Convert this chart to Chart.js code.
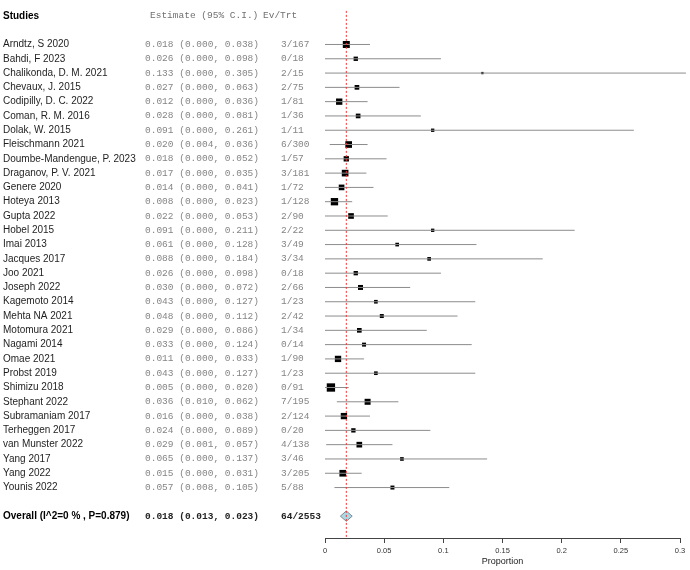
<!DOCTYPE html>
<html>
<head>
<meta charset="utf-8">
<script src="https://cdn.jsdelivr.net/npm/chart.js@4/dist/chart.umd.min.js"></script>
<style>
  html, body { margin: 0; padding: 0; background: #fff; }
  #wrap { width: 690px; height: 570px; }
</style>
</head>
<body>
<div id="wrap"><canvas id="forest" width="690" height="570"></canvas></div>
<script>
// forest plot of proportions, one row per study

const studies = ['Arndtz, S 2020', 'Bahdi, F 2023', 'Chalikonda, D. M. 2021', 'Chevaux, J. 2015', 'Codipilly, D. C. 2022',
  'Coman, R. M. 2016', 'Dolak, W. 2015', 'Fleischmann 2021', 'Doumbe-Mandengue, P. 2023', 'Draganov, P. V. 2021',
  'Genere 2020', 'Hoteya 2013', 'Gupta 2022', 'Hobel 2015', 'Imai 2013', 'Jacques 2017', 'Joo 2021', 'Joseph 2022',
  'Kagemoto 2014', 'Mehta NA 2021', 'Motomura 2021', 'Nagami 2014', 'Omae 2021', 'Probst 2019', 'Shimizu 2018',
  'Stephant 2022', 'Subramaniam 2017', 'Terheggen 2017', 'van Munster 2022', 'Yang 2017', 'Yang 2022', 'Younis 2022'];
const estimate = [0.018, 0.026, 0.133, 0.027, 0.012, 0.028, 0.091, 0.020, 0.018, 0.017, 0.014, 0.008, 0.022, 0.091, 0.061, 0.088,
  0.026, 0.030, 0.043, 0.048, 0.029, 0.033, 0.011, 0.043, 0.005, 0.036, 0.016, 0.024, 0.029, 0.065, 0.015, 0.057];
const lower = [0.000, 0.000, 0.000, 0.000, 0.000, 0.000, 0.000, 0.004, 0.000, 0.000, 0.000, 0.000, 0.000, 0.000, 0.000, 0.000,
  0.000, 0.000, 0.000, 0.000, 0.000, 0.000, 0.000, 0.000, 0.000, 0.010, 0.000, 0.000, 0.001, 0.000, 0.000, 0.008];
const upper = [0.038, 0.098, 0.305, 0.063, 0.036, 0.081, 0.261, 0.036, 0.052, 0.035, 0.041, 0.023, 0.053, 0.211, 0.128, 0.184,
  0.098, 0.072, 0.127, 0.112, 0.086, 0.124, 0.033, 0.127, 0.020, 0.062, 0.038, 0.089, 0.057, 0.137, 0.031, 0.105];
const evTrt = ['3/167', '0/18', '2/15', '2/75', '1/81', '1/36', '1/11', '6/300', '1/57', '3/181', '1/72', '1/128', '2/90', '2/22',
  '3/49', '3/34', '0/18', '2/66', '1/23', '2/42', '1/34', '0/14', '1/90', '1/23', '0/91', '7/195', '2/124', '0/20', '4/138',
  '3/46', '3/205', '5/88'];
// relative study weights (%)
const weight = [4.2, 2.6, 1.4, 2.8, 3.8, 2.8, 2.0, 4.0, 3.2, 4.0, 3.4, 4.4, 3.4, 2.0, 2.2, 2.2, 2.6, 3.0, 2.2, 2.4, 2.8, 2.4,
  3.8, 2.2, 5.0, 3.6, 3.8, 2.6, 3.4, 2.2, 4.0, 2.4];

const overallLabel = 'Overall (I^2=0 % , P=0.879)';
const overallEst = 0.018, overallLo = 0.013, overallHi = 0.023;
const overallEv = '64/2553';
const xTicks = [0, 0.05, 0.1, 0.15, 0.2, 0.25, 0.3];

// row layout: 0 header, 1 blank, studies from 2, blank, overall
const firstRow = 2;
const overallRow = firstRow + studies.length + 1;

const fmt = v => v.toFixed(3);

const whiskers = studies.map((s, i) => ({
    type: 'scatter',
    showLine: true,
    data: [{ x: lower[i], y: firstRow + i }, { x: upper[i], y: firstRow + i }],
    borderColor: '#8c8c8c',
    borderWidth: 1,
    pointRadius: 0,
    clip: false
}));

const boxes = {
    type: 'scatter',
    data: estimate.map((e, i) => ({ x: e, y: firstRow + i })),
    pointStyle: 'rect',
    pointRadius: weight.map(w => (w / 0.6) / Math.SQRT2),
    backgroundColor: '#000',
    borderWidth: 0,
    clip: false
};

const refLine = {
    type: 'scatter',
    showLine: true,
    data: [{ x: overallEst, y: -0.35 }, { x: overallEst, y: 36.53 }],
    borderColor: '#f03030',
    borderWidth: 1,
    borderDash: [2, 2],
    pointRadius: 0,
    clip: false
};

const diamond = {
    type: 'scatter',
    showLine: true,
    data: [
        { x: overallLo, y: overallRow }, { x: overallEst, y: overallRow - 0.36 },
        { x: overallHi, y: overallRow }, { x: overallEst, y: overallRow + 0.36 },
        { x: overallLo, y: overallRow }
    ],
    borderColor: '#7f8c90',
    borderWidth: 1,
    backgroundColor: '#add8e6',
    fill: 'shape',
    pointRadius: 0,
    tension: 0,
    clip: false
};

// text columns drawn next to the plot, on the same rows
const textColumns = {
    id: 'textColumns',
    afterDraw(chart) {
        const ctx = chart.ctx;
        const y = chart.scales.y;
        ctx.save();
        ctx.textBaseline = 'middle';
        ctx.textAlign = 'left';

        ctx.fillStyle = '#000';
        ctx.font = 'bold 10px "Liberation Sans", Arial, sans-serif';
        ctx.fillText('Studies', 3, y.getPixelForValue(0));
        ctx.fillStyle = '#707070';
        ctx.font = '9.5px "Liberation Mono", "Courier New", monospace';
        ctx.fillText('Estimate (95% C.I.)', 150, y.getPixelForValue(0));
        ctx.fillText('Ev/Trt', 263, y.getPixelForValue(0));

        studies.forEach((s, i) => {
            const py = y.getPixelForValue(firstRow + i);
            ctx.fillStyle = '#1e1e1e';
            ctx.font = '10px "Liberation Sans", Arial, sans-serif';
            ctx.fillText(s, 3, py);
            ctx.fillStyle = '#858585';
            ctx.font = '9.5px "Liberation Mono", "Courier New", monospace';
            ctx.fillText(fmt(estimate[i]) + ' (' + fmt(lower[i]) + ', ' + fmt(upper[i]) + ')', 145, py);
            ctx.fillText(evTrt[i], 281, py);
        });

        const oy = y.getPixelForValue(overallRow);
        ctx.fillStyle = '#000';
        ctx.font = 'bold 10px "Liberation Sans", Arial, sans-serif';
        ctx.fillText(overallLabel, 3, oy);
        ctx.fillStyle = '#222';
        ctx.font = 'bold 9.5px "Liberation Mono", "Courier New", monospace';
        ctx.fillText(fmt(overallEst) + ' (' + fmt(overallLo) + ', ' + fmt(overallHi) + ')', 145, oy);
        ctx.fillText(overallEv, 281, oy);
        ctx.restore();
    }
};

new Chart(document.getElementById('forest'), {
    type: 'scatter',
    data: { datasets: [refLine, ...whiskers, boxes, diamond] },
    options: {
        responsive: false,
        animation: false,
        events: [],
        layout: { padding: { left: 325, right: 10, top: 0, bottom: 0 } },
        plugins: { legend: { display: false }, tooltip: { enabled: false } },
        scales: {
            x: {
                type: 'linear',
                min: 0,
                max: 0.3,
                afterBuildTicks: s => { s.ticks = xTicks.map(v => ({ value: v })); },
                afterFit: s => { s.height = 32; },
                grid: { display: true, drawOnChartArea: false, drawTicks: true, tickLength: 5, color: '#444', lineWidth: 1 },
                border: { display: true, color: '#444', width: 1 },
                ticks: {
                    color: '#333',
                    font: { size: 7.5, family: '"Liberation Sans", Arial, sans-serif' },
                    padding: 3,
                    maxRotation: 0,
                    callback: v => String(v)
                },
                title: {
                    display: true,
                    text: 'Proportion',
                    color: '#222',
                    font: { size: 9, family: '"Liberation Sans", Arial, sans-serif' },
                    padding: { top: 0, bottom: 3 }
                }
            },
            y: {
                type: 'linear',
                display: false,
                reverse: true,
                min: -0.7,
                max: 36.53
            }
        }
    },
    plugins: [textColumns]
});
</script>
</body>
</html>
